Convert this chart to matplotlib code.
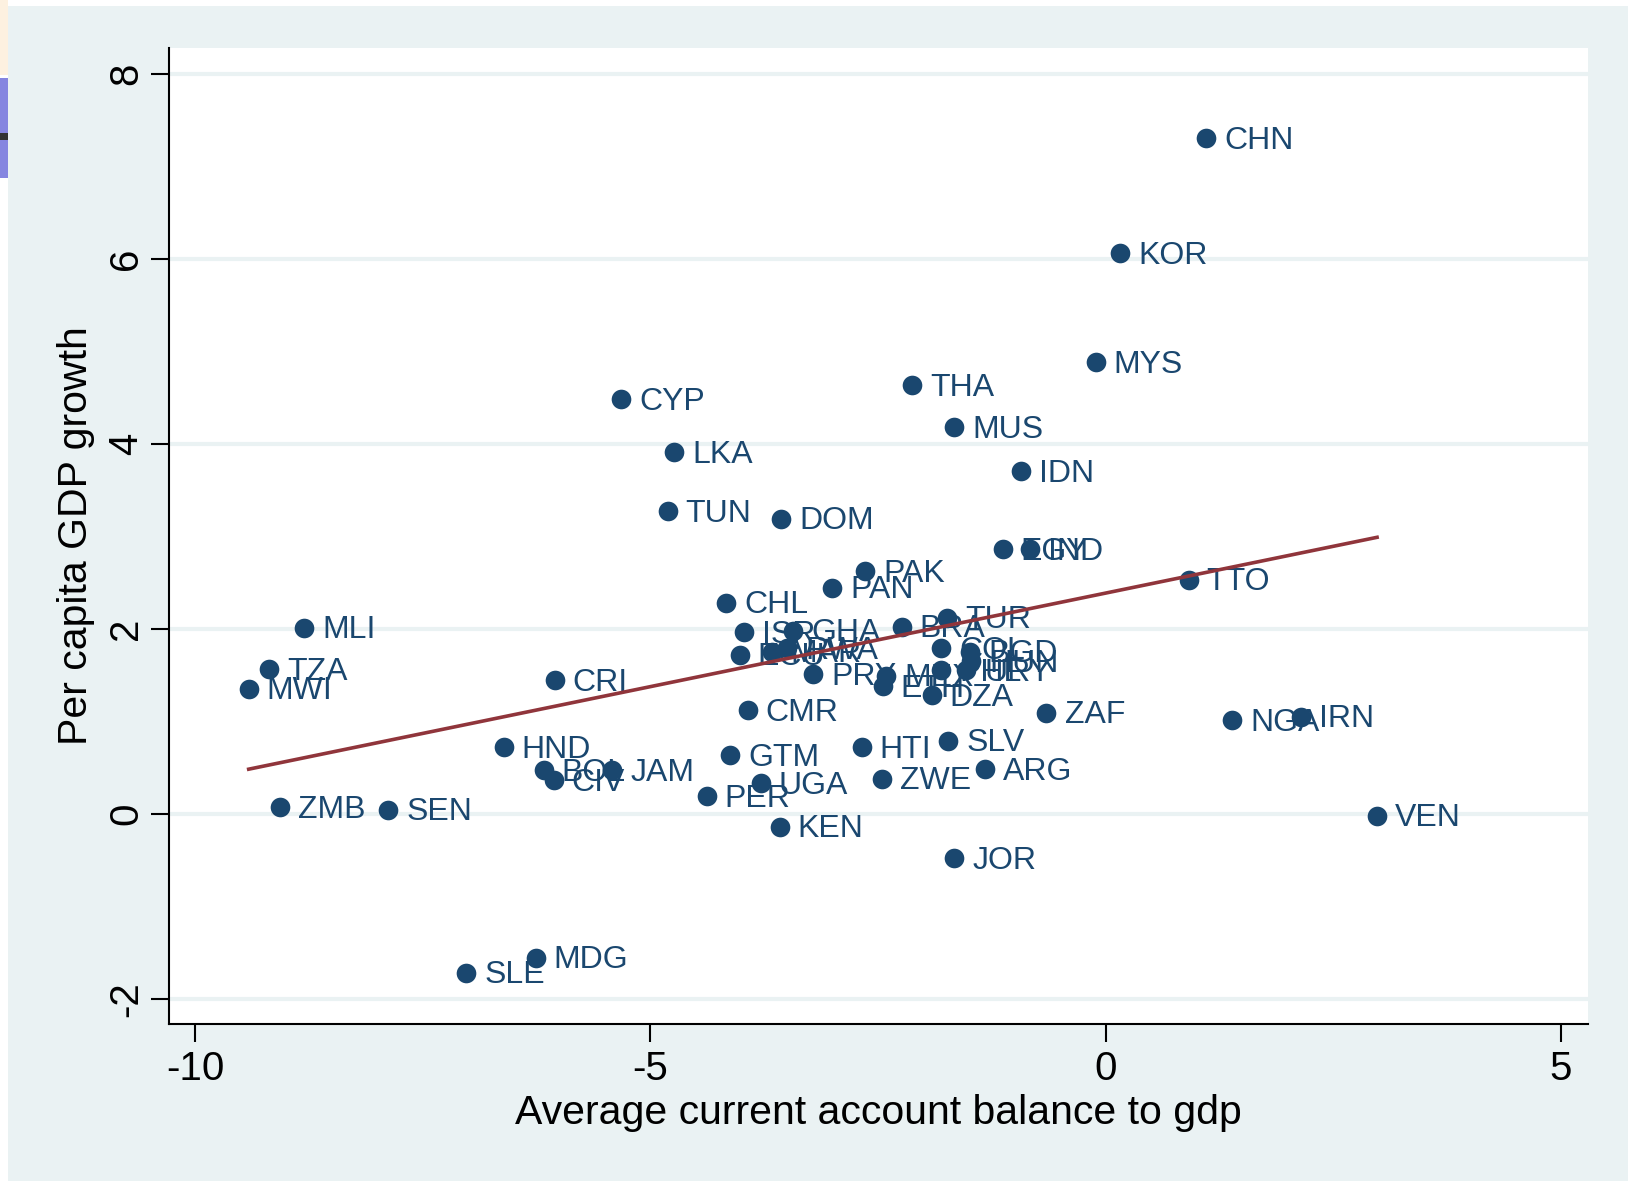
import numpy as np
import matplotlib
matplotlib.use("Agg")
import matplotlib.pyplot as plt
from matplotlib.patches import Rectangle

# Country codes, average current account balance (% of GDP), per capita GDP growth
countries = ["CHN", "KOR", "MYS", "THA", "MUS", "IDN", "CYP", "LKA", "TUN", "DOM",
             "EGY", "IND", "TTO", "PAK", "PAN", "CHL", "MLI", "TZA", "MWI", "CRI",
             "ISR", "GHA", "BRA", "TUR", "ECU", "MAR", "RWA", "PRY", "MEX", "ETH",
             "COL", "BGD", "PHL", "URY", "HUN", "DZA", "CMR", "ZAF", "NGA", "IRN",
             "HND", "BOL", "CIV", "JAM", "GTM", "UGA", "PER", "HTI", "SLV", "ARG",
             "ZWE", "KEN", "JOR", "VEN", "ZMB", "SEN", "SLE", "MDG"]
ca_balance = [1.10, 0.16, -0.11, -2.13, -1.66, -0.93, -5.32, -4.74, -4.81, -3.56,
              -1.13, -0.83, 0.91, -2.64, -3.00, -4.17, -8.80, -9.19, -9.41, -6.05,
              -3.97, -3.43, -2.24, -1.74, -4.02, -3.66, -3.50, -3.21, -2.41, -2.45,
              -1.81, -1.49, -1.81, -1.53, -1.48, -1.91, -3.93, -0.65, 1.39, 2.14,
              -6.61, -6.17, -6.06, -5.42, -4.12, -3.79, -4.38, -2.68, -1.73, -1.33,
              -2.46, -3.58, -1.66, 2.98, -9.07, -7.88, -7.02, -6.26]
gdp_growth = [7.30, 6.06, 4.88, 4.63, 4.18, 3.70, 4.48, 3.91, 3.27, 3.19,
              2.86, 2.86, 2.53, 2.62, 2.44, 2.28, 2.01, 1.56, 1.35, 1.44,
              1.96, 1.98, 2.02, 2.12, 1.72, 1.75, 1.79, 1.51, 1.49, 1.38,
              1.79, 1.75, 1.55, 1.55, 1.65, 1.28, 1.12, 1.09, 1.01, 1.05,
              0.72, 0.47, 0.36, 0.47, 0.63, 0.33, 0.19, 0.72, 0.79, 0.48,
              0.38, -0.14, -0.48, -0.02, 0.07, 0.04, -1.72, -1.56]

x_ticks = [-10, -5, 0, 5]
y_ticks = [-2, 0, 2, 4, 6, 8]

NAVY = "#1a476f"
MAROON = "#90353b"
BG = "#eaf2f3"

plt.rcParams["font.family"] = ["Liberation Sans", "DejaVu Sans"]

W, H = 1628, 1181
fig = plt.figure(figsize=(W / 100, H / 100), dpi=100)
fig.patch.set_facecolor("white")

# graph region background and the thin strip along the left edge
fig.add_artist(Rectangle((8 / W, 0), 1 - 8 / W, 1 - 6 / H, transform=fig.transFigure,
                         facecolor=BG, edgecolor="none", zorder=-10))
fig.add_artist(Rectangle((0, 1 - 75 / H), 8 / W, 75 / H, transform=fig.transFigure,
                         facecolor="#fdf1e0", edgecolor="none", zorder=-9))
fig.add_artist(Rectangle((0, 1 - 178 / H), 8 / W, 100 / H, transform=fig.transFigure,
                         facecolor="#8585e0", edgecolor="none", zorder=-9))
fig.add_artist(Rectangle((0, 1 - 140 / H), 8 / W, 7 / H, transform=fig.transFigure,
                         facecolor="#333333", edgecolor="none", zorder=-8))

left, right, top, bottom = 169, 1588, 48, 1024
ax = fig.add_axes([left / W, 1 - bottom / H, (right - left) / W, (bottom - top) / H])
ax.set_facecolor("white")

x = np.array(ca_balance)
y = np.array(gdp_growth)

ax.scatter(x, y, s=200, color=NAVY, zorder=3, linewidths=0)
for name, xi, yi in zip(countries, x, y):
    ax.annotate(name, (xi, yi), xytext=(13, -1.8), textcoords="offset points",
                ha="left", va="center", fontsize=23, color=NAVY, zorder=4)

# linear fit over the observed range
slope, intercept = np.polyfit(x, y, 1)
xs = np.array([x.min(), x.max()])
ax.plot(xs, intercept + slope * xs, color=MAROON, lw=2.6, zorder=5)

ax.set_xlim(-10.285, 5.296)
ax.set_ylim(-2.274, 8.278)
ax.set_xticks(x_ticks)
ax.set_yticks(y_ticks)
ax.set_xticklabels([str(t) for t in x_ticks])
ax.set_yticklabels([str(t) for t in y_ticks], rotation=90, va="center")

ax.grid(axis="y", color=BG, lw=3, zorder=0)
ax.set_axisbelow(True)

for s in ["top", "right"]:
    ax.spines[s].set_visible(False)
for s in ["left", "bottom"]:
    ax.spines[s].set_linewidth(1.5)
    ax.spines[s].set_color("black")

ax.tick_params(axis="both", direction="out", length=13, width=1.5, labelsize=29,
               colors="black")
ax.tick_params(axis="x", pad=6)
ax.tick_params(axis="y", pad=4)

ax.set_xlabel("Average current account balance to gdp", fontsize=29.5, va="center")
ax.xaxis.set_label_coords(0.5, (bottom - 1113) / (bottom - top))
ax.set_ylabel("Per capita GDP growth", fontsize=29.5, va="center")
ax.yaxis.set_label_coords((76 - left) / (right - left), 0.5)

fig.savefig("out.png", dpi=100, facecolor=fig.get_facecolor())
